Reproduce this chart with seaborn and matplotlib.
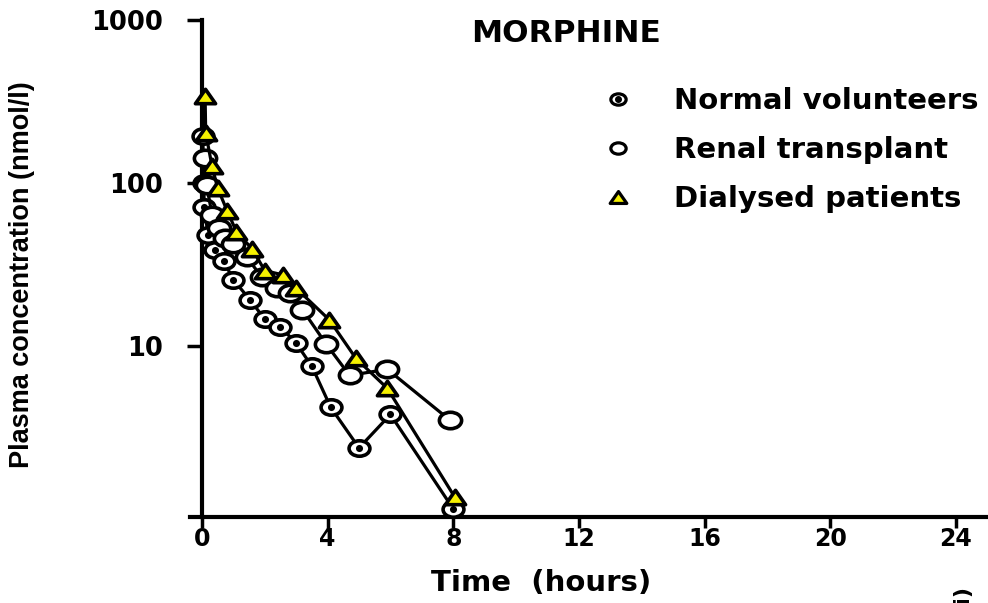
import numpy as np
import pandas as pd
import matplotlib
matplotlib.use("Agg")
import matplotlib.pyplot as plt
import seaborn as sns
from matplotlib.path import Path
from matplotlib.lines import Line2D
from matplotlib.legend_handler import HandlerTuple

# Morphine plasma concentrations (nmol/l) against time (hours)
normal_t = [0.03, 0.05, 0.08, 0.19, 0.41, 0.7, 1.0, 1.53, 2.0, 2.5, 3.0, 3.5, 4.1, 5.0, 6.0, 8.0]
normal_c = [194, 100, 71, 48, 38.6, 33, 25.5, 19.2, 14.6, 13.1, 10.4, 7.5, 4.2, 2.37, 3.8, 1.0]

renal_t = [0.1, 0.15, 0.32, 0.55, 0.73, 1.0, 1.43, 1.9, 2.4, 2.8, 3.2, 3.95, 4.7, 5.9, 7.9]
renal_c = [142, 97, 64, 53, 46, 42, 35, 26.5, 22.6, 21, 16.7, 10.3, 6.6, 7.2, 3.5]

dial_t = [0.1, 0.12, 0.32, 0.5, 0.8, 1.1, 1.6, 2.0, 2.58, 3.0, 4.05, 4.9, 5.9, 8.05]
dial_c = [342, 203, 127, 93, 67.6, 50.2, 39.4, 29.0, 27.3, 22.6, 14.5, 8.4, 5.5, 1.18]

groups = ["Normal volunteers", "Renal transplant", "Dialysed patients"]
x_ticks = [0, 4, 8, 12, 16, 20, 24]
y_ticks = [10, 100, 1000]
y_tick_labels = ["10", "100", "1000"]

df = pd.concat([
    pd.DataFrame({"group": groups[0], "time": normal_t, "conc": normal_c}),
    pd.DataFrame({"group": groups[1], "time": renal_t, "conc": renal_c}),
    pd.DataFrame({"group": groups[2], "time": dial_t, "conc": dial_c}),
], ignore_index=True)

sns.set_style("ticks")
plt.rcParams["font.family"] = ["DejaVu Sans"]
plt.rcParams["font.weight"] = "bold"
plt.rcParams["axes.labelweight"] = "bold"
for key in ["text.color", "axes.labelcolor", "xtick.color", "ytick.color", "axes.edgecolor"]:
    plt.rcParams[key] = "black"

# wide ellipse and wide triangle marker shapes
circ = Path.unit_circle()
ellipse = Path(circ.vertices * np.array([1.35, 1.0]), circ.codes)
triangle = Path([(0, 1), (-1.4, -1), (1.4, -1), (0, 1)],
                [Path.MOVETO, Path.LINETO, Path.LINETO, Path.CLOSEPOLY])

fig = plt.figure(figsize=(9.88, 6.03), dpi=100)
ax = fig.add_axes([190 / 988, 86 / 603, 798 / 988, 497 / 603])
ax.set_yscale("log")

lw = 2.3
yellow = "#f5f000"
styles = {
    groups[0]: dict(marker=ellipse, markersize=15, markerfacecolor="white", zorder=3),
    groups[1]: dict(marker=ellipse, markersize=16, markerfacecolor="white", zorder=4),
    groups[2]: dict(marker=triangle, markersize=14.5, markerfacecolor=yellow, zorder=5),
}
for g in groups:
    sub = df[df["group"] == g]
    sns.lineplot(data=sub, x="time", y="conc", ax=ax, color="black", linewidth=lw,
                 markeredgecolor="black", markeredgewidth=2.6, estimator=None,
                 sort=False, legend=False, **styles[g])

# centre dots of the normal-volunteer markers
sub = df[df["group"] == groups[0]]
sns.scatterplot(data=sub, x="time", y="conc", ax=ax, color="black", s=26,
                marker="o", linewidth=0, legend=False, zorder=3.5)

ax.set_xlim(-0.38, 25.02)
ax.set_ylim(0.893, 1000)
ax.set_xticks(x_ticks)
ax.set_xticklabels([str(v) for v in x_ticks])
ax.set_yticks(y_ticks)
ax.set_yticklabels(y_tick_labels)
ax.minorticks_off()

for side in ["top", "right"]:
    ax.spines[side].set_visible(False)
ax.spines["left"].set_position(("data", 0))
for side in ["left", "bottom"]:
    ax.spines[side].set_linewidth(3)
ax.tick_params(axis="x", length=8, width=2.5, pad=-1, labelsize=17)
ax.tick_params(axis="y", length=11, width=2.5, pad=17, labelsize=18.5)

ax.set_xlabel("Time  (hours)", fontsize=21, va="center")
ax.xaxis.set_label_coords(0.44, -0.133)
ax.set_ylabel("Plasma concentration (nmol/l)", fontsize=19.5,
              family=["Liberation Sans", "DejaVu Sans"], va="center")
ax.yaxis.set_label_coords(-0.2105, 0.487)

fig.text(566 / 988, 1 - 34 / 603, "MORPHINE", ha="center", va="center", fontsize=22.5)

h_normal = (Line2D([], [], ls="", marker=ellipse, markersize=11, markerfacecolor="white",
                   markeredgecolor="black", markeredgewidth=2.3),
            Line2D([], [], ls="", marker="o", markersize=4, color="black"))
h_renal = Line2D([], [], ls="", marker=ellipse, markersize=11, markerfacecolor="white",
                 markeredgecolor="black", markeredgewidth=2.3)
h_dial = Line2D([], [], ls="", marker=triangle, markersize=12, markerfacecolor=yellow,
                markeredgecolor="black", markeredgewidth=2.3)
ax.legend([h_normal, h_renal, h_dial], groups, loc="upper left",
          bbox_to_anchor=(603.5 / 988, 1 - 87 / 603), bbox_transform=fig.transFigure,
          frameon=False, fontsize=21, handlelength=1.0, handletextpad=1.4,
          labelspacing=0.72, borderpad=0, borderaxespad=0,
          handler_map={tuple: HandlerTuple(ndivide=1, pad=0)})

fig.text(962 / 988, -10 / 603, "(i)", rotation=90, ha="center", va="bottom", fontsize=16)

fig.savefig("out.png", dpi=100)
